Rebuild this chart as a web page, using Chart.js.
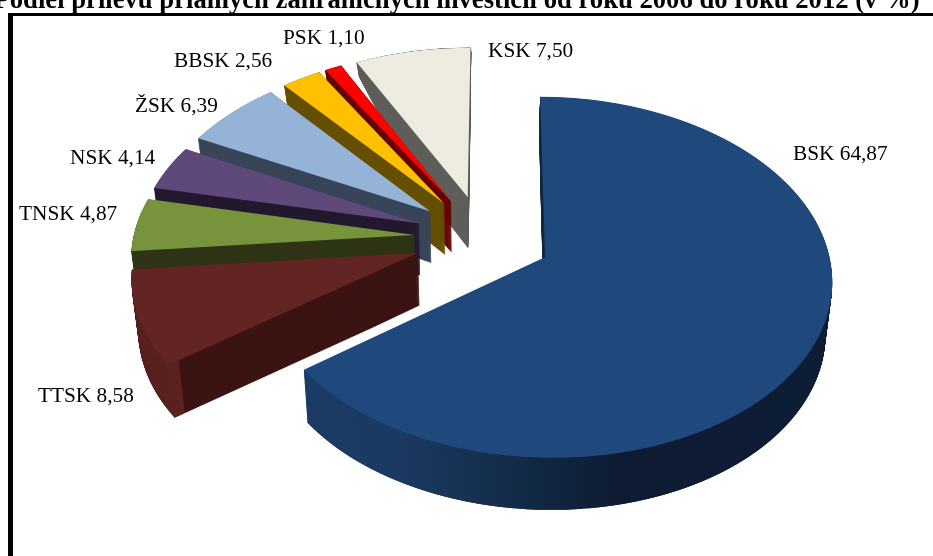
<!DOCTYPE html>
<html>
<head>
<meta charset="utf-8">
<title>Podiel prílevu priamych zahraničných investícií</title>
<script src="https://cdn.jsdelivr.net/npm/chart.js@4"></script>
<style>
  html, body { margin: 0; padding: 0; background: #fff; overflow: hidden; }
  canvas { display: block; }
</style>
</head>
<body>
<canvas id="pieChart" width="933" height="556"></canvas>
<script>
const chartTitle = 'Podiel prílevu priamych zahraničných investícií od roku 2006 do roku 2012 (v %)';
const categories = ['BSK', 'TTSK', 'TNSK', 'NSK', 'ŽSK', 'BBSK', 'PSK', 'KSK'];
const shares = [64.87, 8.58, 4.87, 4.14, 6.39, 2.56, 1.10, 7.50];

const topColors = ['#1f497d', '#632523', '#77933c', '#5f497a', '#95b3d7', '#ffc000', '#ff0000', '#eeece1'];
const wallColors = ['#0f2340', '#3c1513', '#2f3517', '#241a30', '#39465a', '#665000', '#660000', '#5f5e5a'];
const rimColors = ['#0f2340', '#5a2221', '#2f3517', '#241a30', '#39465a', '#665000', '#660000', '#5f5e5a'];
const labelSpots = [[793, 160], [38, 402], [19, 220], [70, 164], [135, 112], [174, 67], [283, 44], [488, 57]];

// camera for the tilted pie, plane units are one pie radius
const view = { cx: 483, cy: 237.5, sx: 281, sy: 174, tilt: 0.11, depth: 52, shrink: 0.02 };
const explode = 0.245;
const wallSteps = 60;

// the wall gets much shorter towards the far edge of the pie, a bit shorter at the front
function depthAt(y) {
  if (y > 0.2) return view.depth * (1 - 0.12 * (y - 0.2) / 0.9);
  if (y > -0.3) return view.depth;
  const t = (y + 0.3) / 1.0;
  return view.depth * Math.max(0, 1 - t * t);
}

function rowOf(y, z) {
  return view.cy + (view.sy * y + depthAt(y) * z) / (1 - view.tilt * y);
}

function planeY(row, z) {
  let lo = -1.6, hi = 1.6;
  for (let i = 0; i < 24; i++) {
    const m = (lo + hi) / 2;
    if (rowOf(m, z) < row) lo = m; else hi = m;
  }
  return (lo + hi) / 2;
}

// draws one arc with the perspective applied a pixel row at a time
function drawProjected(ctx, arc, fill, z, inner, edge) {
  const R = arc.outerRadius;
  const mid = (arc.startAngle + arc.endAngle) / 2;
  const ox = Math.cos(mid) * explode;
  const oy = Math.sin(mid) * explode;

  let minY = oy, maxY = oy;
  for (let i = 0; i <= 24; i++) {
    const a = arc.startAngle + (arc.endAngle - arc.startAngle) * i / 24;
    minY = Math.min(minY, oy + Math.sin(a));
    maxY = Math.max(maxY, oy + Math.sin(a));
  }
  const first = Math.max(0, Math.floor(rowOf(minY, z)) - 1);
  const last = Math.min(556, Math.ceil(rowOf(maxY, z)) + 1);

  const baseOptions = arc.options;
  const baseInner = arc.innerRadius;
  arc.options = Object.assign(Object.create(baseOptions), {
    backgroundColor: fill, borderColor: fill, borderWidth: edge
  });
  arc.innerRadius = inner;

  for (let row = first; row < last; row++) {
    const y = planeY(row + 0.5, z);
    const a = view.sx * (1 - view.shrink * z) / (1 - view.tilt * y);
    const d = (rowOf(y + 0.002, z) - rowOf(y - 0.002, z)) / 0.004;
    ctx.save();
    ctx.setTransform(1, 0, 0, 1, 0, 0);
    ctx.beginPath();
    ctx.rect(0, row, 933, 1);
    ctx.clip();
    ctx.setTransform(a / R, 0, 0, d / R,
      view.cx + a * (ox - arc.x / R),
      row + 0.5 + d * (oy - arc.y / R - y));
    arc.draw(ctx);
    ctx.restore();
  }

  arc.options = baseOptions;
  arc.innerRadius = baseInner;
}

const pie3d = {
  id: 'pie3d',
  beforeDatasetsDraw(chart) {
    const ctx = chart.ctx;
    const arcs = chart.getDatasetMeta(0).data;

    // back slices first, the big one last
    const order = [7, 6, 5, 4, 3, 2, 1, 0];
    order.forEach(i => {
      const arc = arcs[i];
      let wall = wallColors[i];
      let rim = rimColors[i];
      if (i === 0) {
        rim = ctx.createLinearGradient(arc.x - arc.outerRadius, 0, arc.x + arc.outerRadius, 0);
        rim.addColorStop(0, '#1c3b65');
        rim.addColorStop(0.25, '#1b3a63');
        rim.addColorStop(0.5, '#10263f');
        rim.addColorStop(0.6, '#0d1c33');
        rim.addColorStop(1, '#0d1d36');
        wall = rim;
      }
      // a thin edge keeps the narrow wedge tips solid
      for (let s = wallSteps; s > 0; s--) {
        drawProjected(ctx, arc, wall, s / wallSteps, 0, i === 0 ? 0 : 0.8);
      }
      for (let s = wallSteps; s > 0; s--) {
        drawProjected(ctx, arc, rim, s / wallSteps, arc.outerRadius * 0.96, 0);
      }
      drawProjected(ctx, arc, topColors[i], 0, 0, 0);
    });

    // frame
    ctx.save();
    ctx.fillStyle = '#000';
    ctx.fillRect(8, 13, 925, 3);
    ctx.fillRect(8, 13, 5, 543);

    // texts
    ctx.textAlign = 'left';
    ctx.textBaseline = 'alphabetic';
    ctx.font = 'bold 26.67px "Liberation Serif"';
    ctx.fillText(chartTitle, -6.5, 7.5);
    ctx.font = '21.3px "Liberation Serif"';
    categories.forEach((name, i) => {
      const text = name + ' ' + shares[i].toFixed(2).replace('.', ',');
      ctx.fillText(text, labelSpots[i][0], labelSpots[i][1]);
    });
    ctx.restore();
    return false;
  }
};

new Chart(document.getElementById('pieChart').getContext('2d'), {
  type: 'pie',
  data: {
    labels: categories,
    datasets: [{ data: shares, backgroundColor: topColors, borderWidth: 0 }]
  },
  options: {
    responsive: false,
    animation: false,
    devicePixelRatio: 1,
    rotation: 0.3,
    plugins: { legend: { display: false }, tooltip: { enabled: false } }
  },
  plugins: [pie3d]
});
</script>
</body>
</html>
